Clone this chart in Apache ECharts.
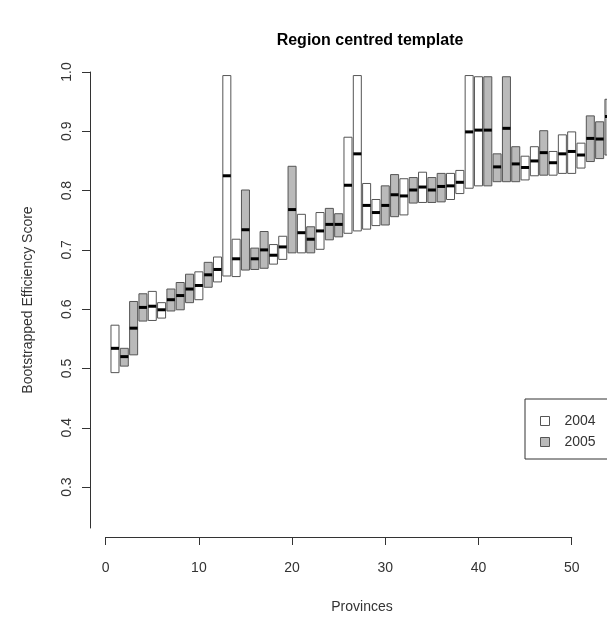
<!DOCTYPE html>
<html>
<head>
<meta charset="utf-8">
<script src="https://cdn.jsdelivr.net/npm/echarts@6/dist/echarts.min.js"></script>
<style>
html,body{margin:0;padding:0;background:#fff;}
#chart{width:607px;height:622px;}
</style>
</head>
<body>
<div id="chart"></div>
<script>
// Province index (x position)
const provinces = [1,2,3,4,5,6,7,8,9,10,11,12,13,14,15,16,17,18,19,20,21,22,23,24,25,26,27,28,29,30,31,32,33,34,35,36,37,38,39,40,41,42,43,44,45,46,47,48,49,50,51,52,53,54];
// Year of each box
const years = ['2004','2005','2005','2005','2004','2004','2005','2005','2005','2004','2005','2004','2004','2004','2005','2005','2005','2004','2004','2005','2004','2005','2004','2005','2005','2004','2004','2004','2004','2005','2005','2004','2005','2004','2005','2005','2004','2004','2004','2004','2005','2005','2005','2005','2004','2004','2005','2004','2004','2004','2004','2005','2005','2005'];
// Lower bound of bootstrapped score
const lower = [0.493,0.504,0.523,0.580,0.581,0.585,0.597,0.599,0.611,0.616,0.637,0.646,0.656,0.655,0.666,0.667,0.669,0.676,0.684,0.695,0.695,0.695,0.701,0.717,0.722,0.728,0.732,0.735,0.741,0.742,0.756,0.759,0.779,0.780,0.780,0.781,0.785,0.795,0.804,0.808,0.808,0.815,0.815,0.815,0.818,0.825,0.826,0.826,0.829,0.829,0.838,0.849,0.854,0.860];
// Point estimate (median line)
const median = [0.534,0.520,0.568,0.603,0.605,0.599,0.616,0.623,0.634,0.640,0.658,0.667,0.825,0.685,0.734,0.685,0.700,0.691,0.705,0.768,0.729,0.718,0.732,0.743,0.743,0.809,0.862,0.775,0.763,0.775,0.793,0.791,0.801,0.806,0.801,0.807,0.808,0.814,0.899,0.902,0.902,0.840,0.905,0.845,0.839,0.850,0.864,0.847,0.862,0.866,0.860,0.888,0.887,0.925];
// Upper bound of bootstrapped score
const upper = [0.573,0.534,0.613,0.626,0.630,0.611,0.634,0.645,0.659,0.663,0.679,0.688,0.994,0.718,0.801,0.703,0.731,0.709,0.723,0.841,0.760,0.739,0.763,0.770,0.761,0.890,0.994,0.812,0.785,0.808,0.827,0.820,0.822,0.831,0.822,0.829,0.829,0.834,0.994,0.992,0.992,0.862,0.992,0.874,0.858,0.874,0.901,0.866,0.894,0.899,0.880,0.926,0.916,0.954];

const xTicks = [0,10,20,30,40,50];
const yTicks = [0.3,0.4,0.5,0.6,0.7,0.8,0.9,1.0];

const FONT = "'Liberation Sans', Arial, sans-serif";
const fills = {'2004':'#ffffff','2005':'#bababa'};
const BORDER = '#555555';

function buildData(yr){
  const out = [];
  for (let i=0;i<provinces.length;i++){
    if (years[i]===yr) out.push([provinces[i], lower[i], median[i], upper[i]]);
  }
  return out;
}

function makeRender(fill){
  return function(params, api){
    const x = api.value(0), lo = api.value(1), md = api.value(2), hi = api.value(3);
    const half = 0.43;
    const p1 = api.coord([x - half, hi]);
    const p2 = api.coord([x + half, lo]);
    const pm = api.coord([x, md]);
    return {
      type:'group',
      children:[
        {type:'rect', shape:{x:p1[0], y:p1[1], width:p2[0]-p1[0], height:p2[1]-p1[1]},
         style:{fill:fill, stroke:BORDER, lineWidth:1}},
        {type:'line', shape:{x1:p1[0], y1:pm[1], x2:p2[0], y2:pm[1]},
         style:{stroke:'#000', lineWidth:3}}
      ]
    };
  };
}

const chart = echarts.init(document.getElementById('chart'), null, {renderer:'canvas'});
chart.setOption({
  animation:false,
  backgroundColor:'#ffffff',
  textStyle:{fontFamily:FONT},
  title:[
    {text:'Region centred template', left:370, top:33, textAlign:'center', padding:0,
     textStyle:{fontFamily:FONT, fontSize:16, fontWeight:'bold', color:'#000'}},
    {text:'Provinces', left:362, top:600, textAlign:'center', padding:0,
     textStyle:{fontFamily:FONT, fontSize:14, fontWeight:'normal', color:'#333'}}
  ],
  legend:{
    orient:'vertical', left:525, top:399,
    padding:[15,30,10,15],
    itemWidth:9, itemHeight:9, itemGap:7, itemTextGap:15,
    icon:'rect',
    borderColor:'#333', borderWidth:1,
    textStyle:{fontFamily:FONT, fontSize:14, color:'#333', padding:[0,0,0,10]},
    data:[
      {name:'2004', itemStyle:{color:fills['2004'], borderColor:BORDER, borderWidth:1}},
      {name:'2005', itemStyle:{color:fills['2005'], borderColor:BORDER, borderWidth:1}}
    ]
  },
  grid:[
    {left:90, right:0, top:72, bottom:94, containLabel:false},
    {left:105.7, width:466, top:536, height:1, containLabel:false}
  ],
  xAxis:[
    {type:'value', gridIndex:0, min:-1.68, max:53.79, show:false},
    {type:'value', gridIndex:1, min:0, max:50, interval:10, position:'bottom',
     axisLine:{show:true, onZero:false, lineStyle:{color:'#333', width:1}},
     axisTick:{show:true, length:8, lineStyle:{color:'#333'}},
     axisLabel:{show:true, margin:24, fontFamily:FONT, fontSize:14, color:'#333',
       customValues:xTicks},
     splitLine:{show:false}}
  ],
  yAxis:[
    {type:'value', gridIndex:0, min:0.231, max:1.0, position:'left',
     name:'Bootstrapped Efficiency Score', nameLocation:'middle', nameGap:55, nameRotate:90,
     nameTextStyle:{fontFamily:FONT, fontSize:14, color:'#333'},
     axisLine:{show:true, onZero:false, lineStyle:{color:'#333', width:1}},
     axisTick:{show:true, length:8, customValues:yTicks, lineStyle:{color:'#333'}},
     axisLabel:{show:true, rotate:90, margin:16, fontFamily:FONT, fontSize:14, color:'#333',
       customValues:yTicks, formatter:function(v){return v.toFixed(1);}},
     splitLine:{show:false}},
    {type:'value', gridIndex:1, show:false, min:0, max:1}
  ],
  series:[
    {name:'2004', type:'custom', xAxisIndex:0, yAxisIndex:0, clip:true,
     itemStyle:{color:fills['2004'], borderColor:BORDER},
     renderItem:makeRender(fills['2004']), data:buildData('2004'),
     encode:{x:0, y:[1,2,3]}},
    {name:'2005', type:'custom', xAxisIndex:0, yAxisIndex:0, clip:true,
     itemStyle:{color:fills['2005'], borderColor:BORDER},
     renderItem:makeRender(fills['2005']), data:buildData('2005'),
     encode:{x:0, y:[1,2,3]}}
  ]
});
</script>
</body>
</html>
